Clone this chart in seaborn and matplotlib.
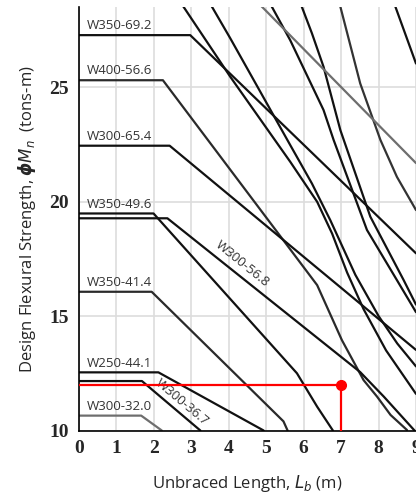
import matplotlib
matplotlib.use("Agg")
import matplotlib.pyplot as plt
import pandas as pd
import seaborn as sns
from matplotlib.ticker import MultipleLocator

# unbraced length Lb (m) / design strength phiMn (tons-m)
w350_692_L = [0, 2.97, 9.0]
w350_692_M = [27.27, 27.27, 17.74]
w400_566_L = [0, 2.24, 6.36, 7.02, 7.60, 7.96, 8.32, 8.76]
w400_566_M = [25.30, 25.30, 16.35, 13.95, 12.20, 11.48, 10.68, 10.02]
w300_654_L = [0, 2.42, 9.0]
w300_654_M = [22.44, 22.44, 13.52]
w350_496_L = [0, 1.99, 5.82, 6.36, 6.78]
w350_496_M = [19.48, 19.48, 12.50, 11.04, 10.0]
w300_568_L = [0, 2.36, 7.51, 8.14, 8.96]
w300_568_M = [19.27, 19.27, 12.55, 11.48, 10.0]
w350_414_L = [0, 1.94, 5.46, 5.57]
w350_414_M = [16.06, 16.06, 10.40, 10.0]
w250_441_L = [0, 2.12, 4.93]
w250_441_M = [12.54, 12.54, 10.0]
w300_367_L = [0, 1.68, 3.24]
w300_367_M = [12.16, 12.16, 10.0]
w300_320_L = [0, 1.66, 2.21]
w300_320_M = [10.65, 10.65, 10.0]

# heavier sections whose plateau is above the plotted range
sec_a_L = [3.20, 3.55, 4.04, 5.64, 6.22, 6.71, 7.38, 8.0, 8.5, 9.0]
sec_a_M = [29.5, 28.51, 27.13, 22.47, 20.79, 19.19, 16.8, 15.0, 13.8, 12.8]
sec_b_L = [2.39, 2.79, 4.04, 5.64, 6.36, 6.76, 7.16, 7.6, 8.2, 9.0]
sec_b_M = [29.5, 28.51, 25.45, 21.74, 19.99, 18.6, 16.9, 15.3, 13.5, 11.6]
sec_c_L = [4.82, 5.15, 5.64, 6.53, 6.80, 7.69, 8.49, 9.0]
sec_c_M = [29.5, 28.51, 27.05, 24.0, 22.69, 18.76, 16.57, 15.17]
sec_d_L = [5.72, 5.95, 6.22, 6.53, 6.98, 7.78, 8.67, 9.0]
sec_d_M = [29.5, 28.51, 27.35, 25.89, 23.12, 19.34, 16.57, 15.5]
sec_e_L = [6.82, 6.98, 7.51, 8.05, 8.49, 9.0]
sec_e_M = [29.5, 28.51, 25.16, 22.69, 21.08, 19.63]
sec_f_L = [8.22, 8.45, 9.0]
sec_f_M = [29.5, 28.51, 26.03]
sec_g_L = [4.29, 9.0]
sec_g_M = [29.5, 21.68]

# design point
req_L = 7.0
req_M = 12.0

curves = [
    ("W350-69.2", w350_692_L, w350_692_M, "#111111"),
    ("W400-56.6", w400_566_L, w400_566_M, "#2a2a2a"),
    ("W300-65.4", w300_654_L, w300_654_M, "#111111"),
    ("W350-49.6", w350_496_L, w350_496_M, "#111111"),
    ("W300-56.8", w300_568_L, w300_568_M, "#111111"),
    ("W350-41.4", w350_414_L, w350_414_M, "#2a2a2a"),
    ("W250-44.1", w250_441_L, w250_441_M, "#111111"),
    ("W300-36.7", w300_367_L, w300_367_M, "#111111"),
    ("W300-32.0", w300_320_L, w300_320_M, "#6e6e6e"),
    ("a", sec_a_L, sec_a_M, "#111111"),
    ("b", sec_b_L, sec_b_M, "#111111"),
    ("c", sec_c_L, sec_c_M, "#111111"),
    ("d", sec_d_L, sec_d_M, "#111111"),
    ("e", sec_e_L, sec_e_M, "#333333"),
    ("f", sec_f_L, sec_f_M, "#111111"),
    ("g", sec_g_L, sec_g_M, "#6e6e6e"),
]

rows = []
for name, L, M, c in curves:
    for l, m in zip(L, M):
        rows.append({"section": name, "L": l, "M": m})
df = pd.DataFrame(rows)
palette = {name: c for name, L, M, c in curves}

sns.set_style("white")
plt.rcParams["font.family"] = ["Open Sans", "DejaVu Sans"]

fig = plt.figure(figsize=(4.16, 4.95), dpi=100)
ax = fig.add_axes([0.19, 0.1303, 0.81, 0.8556])

sns.lineplot(data=df, x="L", y="M", hue="section", palette=palette,
             estimator=None, sort=False, legend=False, linewidth=1.6, ax=ax)

# required strength / length
ax.plot([0, req_L], [req_M, req_M], color="red", lw=1.6, zorder=5)
ax.plot([req_L, req_L], [10, req_M], color="red", lw=1.6, zorder=5)
ax.plot(req_L, req_M, "o", color="red", ms=7, zorder=6)

# labels on the plateaus
for name, L, M, c in curves[:9]:
    if name in ("W300-56.8", "W300-36.7"):
        continue
    ax.text(0.2, M[0] + 0.12, name, fontsize=9.5, color="#333333",
            ha="left", va="bottom")
ax.text(4.36, 17.27, "W300-56.8", fontsize=9.5, color="#333333",
        rotation=-39, ha="center", va="center")
ax.text(2.74, 11.22, "W300-36.7", fontsize=9.5, color="#333333",
        rotation=-40, ha="center", va="center")

ax.set_xlim(0, 9)
ax.set_ylim(10, 28.5)
ax.xaxis.set_major_locator(MultipleLocator(1))
ax.yaxis.set_major_locator(MultipleLocator(5))
ax.yaxis.set_minor_locator(MultipleLocator(1))
ax.grid(True, which="major", color="#dddddd", lw=1.2)
ax.set_axisbelow(True)
for s in ["top", "right"]:
    ax.spines[s].set_visible(False)
for s in ["left", "bottom"]:
    ax.spines[s].set_color("black")
    ax.spines[s].set_linewidth(1.2)

ax.tick_params(axis="x", direction="out", length=4, width=1, color="black", pad=3)
ax.tick_params(axis="y", which="major", direction="inout", length=8, width=1, color="black")
ax.tick_params(axis="y", which="minor", direction="in", length=4, width=1, color="black")
for t in ax.get_xticklabels() + ax.get_yticklabels():
    t.set_fontfamily("Liberation Serif")
    t.set_fontweight("bold")
    t.set_fontsize(14)

ax.set_xlabel(r"Unbraced Length, $L_b$ (m)", fontsize=12, labelpad=11)
ax.set_ylabel(r"Design Flexural Strength, $\boldsymbol{\phi}M_n$  (tons-m)",
              fontsize=12, labelpad=8)

fig.savefig("out.png", dpi=100)
